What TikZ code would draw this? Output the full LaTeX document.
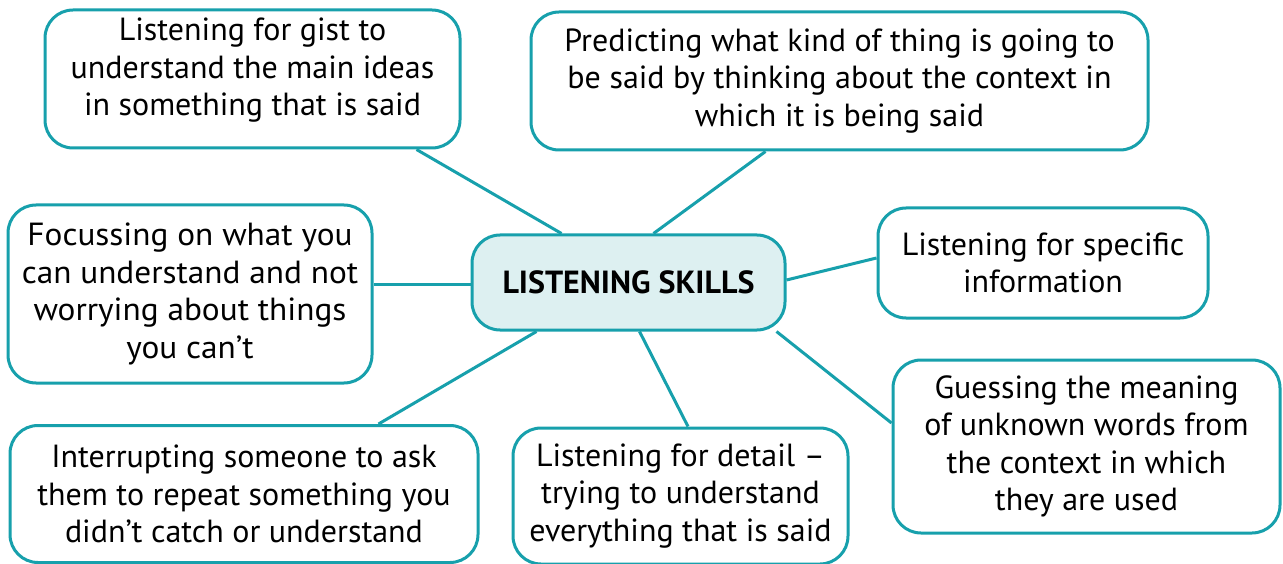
\documentclass[tikz,border=0pt]{standalone}
\usepackage{fontspec}
\setmainfont{PT Sans}
\newfontfamily\widefont[FakeStretch=1.04]{PT Sans}
\usetikzlibrary{positioning,calc}
\definecolor{mapline}{HTML}{17A0AC}
\definecolor{mapfill}{HTML}{DDF0F1}
\tikzset{
skill/.style = {draw=mapline, line width=3pt, fill=white, rectangle, rounded corners=28pt, align=center, inner sep=0pt, font=\fontsize{32}{37.5}\selectfont},
hub/.style = {skill, fill=mapfill, font=\fontsize{32}{37.5}\selectfont\bfseries},
link/.style = {draw=mapline, line width=3pt}
}
\begin{document}
\begin{tikzpicture}[x=1pt, y=-1pt]
   \useasboundingbox (0,0) rectangle (1283,564);
   % centre
   \node [hub, minimum width=313pt, minimum height=95pt] (skills) at (628.5,282.5) {LISTENING SKILLS};
   % ideas around it
   \node [skill, minimum width=415pt, minimum height=138pt, text depth=24pt] (gist) at (252.5,79) {Listening for gist to\\understand the main ideas\\in something that is said};
   \node [skill, minimum width=617pt, minimum height=138pt] (predict) at (839.5,81) {Predicting what kind of thing is going to\\be said by thinking about the context in\\which it is being said};
   \node [skill, minimum width=364pt, minimum height=178pt, font=\fontsize{32}{37.5}\widefont] (focus) at (190,294) {Focussing on what you\\can understand and not\\worrying about things\\you can’t};
   \node [skill, minimum width=330pt, minimum height=110pt] (specific) at (1043,263) {Listening for specific\\information};
   \node [skill, minimum width=468pt, minimum height=137pt] (interrupt) at (244,494) {Interrupting someone to ask\\them to repeat something you\\didn’t catch or understand};
   \node [skill, minimum width=335pt, minimum height=136pt] (detail) at (680.5,496) {Listening for detail –\\trying to understand\\everything that is said};
   \node [skill, minimum width=387pt, minimum height=173pt] (guess) at (1086.5,446.5) {Guessing the meaning\\of unknown words from\\the context in which\\they are used};
   % links
   \draw [link] ([xshift=-45pt]gist.south east) -- ([xshift=91pt]skills.north west);
   \draw [link] ([xshift=236pt]predict.south west) -- ([xshift=183pt]skills.north west);
   \draw [link] ([yshift=-2.5pt]skills.west) -- ([yshift=-2.5pt]skills.west -| focus.east);
   \draw [link] ([yshift=2.5pt]skills.east) -- ([yshift=5pt]specific.west);
   \draw [link] ([xshift=66pt]skills.south west) -- ([xshift=370pt]interrupt.north west);
   \draw [link] ([xshift=169pt]skills.south west) -- ([xshift=7.5pt]detail.north);
   \draw [link] ([xshift=-10pt]skills.south east) -- ([yshift=23.5pt]guess.west);
\end{tikzpicture}
\end{document}
